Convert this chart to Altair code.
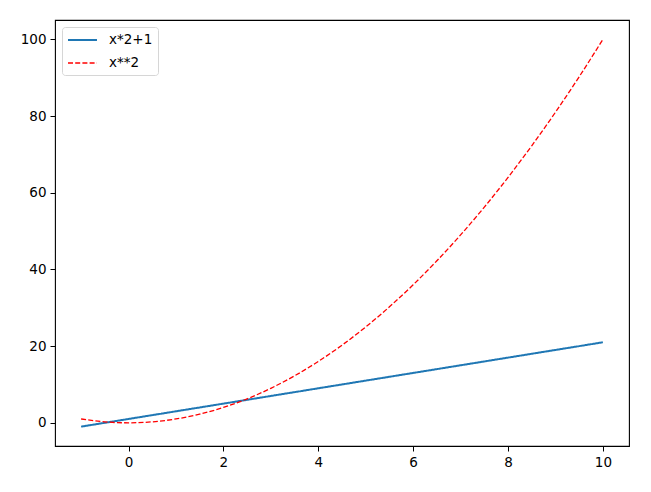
import altair as alt
import pandas as pd

x_vals = [-1, -0.5, 0, 0.5, 1, 1.5, 2, 2.5, 3, 3.5, 4, 4.5, 5, 5.5, 6, 6.5, 7, 7.5, 8, 8.5, 9, 9.5, 10]
lin_vals = [-1, 0, 1, 2, 3, 4, 5, 6, 7, 8, 9, 10, 11, 12, 13, 14, 15, 16, 17, 18, 19, 20, 21]
sq_vals = [1, 0.25, 0, 0.25, 1, 2.25, 4, 6.25, 9, 12.25, 16, 20.25, 25, 30.25, 36, 42.25,
           49, 56.25, 64, 72.25, 81, 90.25, 100]
series_names = ["x*2+1", "x**2"]
x_ticks = [0, 2, 4, 6, 8, 10]
y_ticks = [0, 20, 40, 60, 80, 100]

rows = []
for xv, yv in zip(x_vals, lin_vals):
    rows.append({"x": xv, "y": yv, "s": series_names[0]})
for xv, yv in zip(x_vals, sq_vals):
    rows.append({"x": xv, "y": yv, "s": series_names[1]})
df = pd.DataFrame(rows)

font = "DejaVu Sans"

chart = alt.Chart(df).mark_line(interpolate="monotone").encode(
    x=alt.X("x:Q", scale=alt.Scale(domain=[-1.55, 10.55], nice=False, zero=False),
            axis=alt.Axis(values=x_ticks, title=None, grid=False, domain=False,
                          tickColor="black", tickSize=5, tickWidth=1,
                          labelColor="black", labelFontSize=13.5, labelFont=font,
                          labelPadding=4, format="d")),
    y=alt.Y("y:Q", scale=alt.Scale(domain=[-6.05, 105.05], nice=False, zero=False),
            axis=alt.Axis(values=y_ticks, title=None, grid=False, domain=False,
                          tickColor="black", tickSize=5, tickWidth=1,
                          labelColor="black", labelFontSize=13.5, labelFont=font,
                          labelPadding=4, format="d")),
    color=alt.Color("s:N", scale=alt.Scale(domain=series_names, range=["#1f77b4", "#ff0000"]),
                    legend=alt.Legend(title=None, orient="none", legendX=7, legendY=7,
                                      symbolType="M-1,0L3.14,0", symbolSize=196,
                                      symbolStrokeWidth=1.6,
                                      labelFontSize=13.5, labelFont=font, labelColor="black",
                                      labelOffset=26, rowPadding=8,
                                      padding=5, cornerRadius=3,
                                      strokeColor="#d6d6d6", fillColor="white")),
    strokeDash=alt.StrokeDash("s:N", scale=alt.Scale(domain=series_names, range=[[1, 0], [5, 2.2]]),
                              legend=alt.Legend(title=None)),
    strokeWidth=alt.StrokeWidth("s:N", scale=alt.Scale(domain=series_names, range=[2, 1.3]),
                                legend=None),
).properties(
    width=574, height=426,
    autosize=alt.AutoSizeParams(type="none"),
    padding={"left": 47, "top": 12, "right": 14, "bottom": 38},
    background="white",
).configure_view(
    stroke="black", strokeWidth=1.1
)

chart.save("out.html", embed_options={"renderer": "svg", "actions": False})
